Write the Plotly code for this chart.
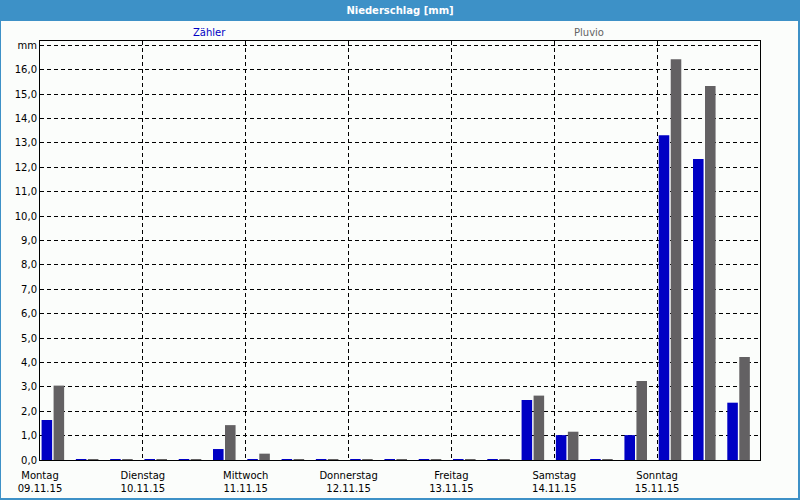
import pandas as pd
import plotly.graph_objects as go

# ---- data ----
day_names = ["Montag", "Dienstag", "Mittwoch", "Donnerstag", "Freitag", "Samstag", "Sonntag"]
day_dates = ["09.11.15", "10.11.15", "11.11.15", "12.11.15", "13.11.15", "14.11.15", "15.11.15"]
day_starts = ["2015-11-09", "2015-11-10", "2015-11-11", "2015-11-12", "2015-11-13", "2015-11-14", "2015-11-15"]
# three 8-hour periods per day (centres at 03:00, 11:00, 19:00)
period_centres = pd.date_range("2015-11-09 03:00", periods=21, freq="8h")

zaehler = [1.64, 0.04, 0.04, 0.04, 0.04, 0.45, 0.04, 0.04, 0.04, 0.04, 0.04,
           0.04, 0.04, 0.04, 2.46, 1.02, 0.04, 1.02, 13.32, 12.34, 2.35]
pluvio = [3.05, 0.04, 0.04, 0.04, 0.04, 1.43, 0.26, 0.04, 0.04, 0.04, 0.04,
          0.04, 0.04, 0.04, 2.64, 1.16, 0.04, 3.24, 16.43, 15.33, 4.22]

y_tickvals = list(range(0, 18))
y_ticktext = [f"{v},0" for v in range(0, 17)] + ["mm"]

BLUE = "#0000C4"
GRAY = "#636163"
FRAME = "#3D91C7"
BG = "#FBFDFB"
FONT = "DejaVu Sans"

fig = go.Figure()
fig.add_trace(go.Bar(x=period_centres, y=zaehler, name="Zähler", marker=dict(color=BLUE, line=dict(width=0))))
fig.add_trace(go.Bar(x=period_centres, y=pluvio, name="Pluvio", marker=dict(color=GRAY, line=dict(width=0))))

L, R, T, B = 40, 40, 41, 40
W, H = 800, 500
pw, ph = W - L - R, H - T - B


def px_x(p):
    return (p - L) / pw


def px_y(p):
    return (H - B - p) / ph


fig.update_layout(
    width=W, height=H,
    margin=dict(l=L, r=R, t=T, b=B, pad=0, autoexpand=False),
    paper_bgcolor=FRAME,
    plot_bgcolor="rgba(0,0,0,0)",
    barmode="group",
    bargap=0.30,
    bargroupgap=0.12,
    showlegend=False,
    font=dict(family=FONT, size=10, color="black"),
    title=dict(text="<b>Niederschlag [mm]</b>", x=0.5, xanchor="center", y=1 - 10.5 / H, yanchor="middle",
               font=dict(family=FONT, size=10, color="white")),
    shapes=[
        dict(type="rect", xref="paper", yref="paper", layer="below",
             x0=px_x(1), x1=px_x(798), y0=px_y(498), y1=px_y(21),
             fillcolor=BG, line=dict(width=0)),
    ],
    annotations=[
        dict(text="Zähler", xref="paper", yref="paper", x=px_x(209), y=px_y(32), showarrow=False,
             xanchor="center", yanchor="middle", font=dict(family=FONT, size=10, color=BLUE)),
        dict(text="Pluvio", xref="paper", yref="paper", x=px_x(589), y=px_y(32), showarrow=False,
             xanchor="center", yanchor="middle", font=dict(family=FONT, size=10, color="#646464")),
    ],
)

fig.update_xaxes(
    type="date",
    range=["2015-11-09", "2015-11-16"],
    tickvals=day_starts,
    ticktext=[f"{n}<br>{d}" for n, d in zip(day_names, day_dates)],
    tickangle=0,
    ticklabelstandoff=6,
    automargin=False,
    showgrid=True, gridcolor="black", griddash="4px,3px", gridwidth=1,
    showline=True, linecolor="black", linewidth=1, mirror=True,
    ticks="", zeroline=False,
    tickfont=dict(family=FONT, size=10, color="black"),
)
fig.update_yaxes(
    range=[0, 17.18],
    automargin=False,
    tickvals=y_tickvals, ticktext=y_ticktext,
    showgrid=True, gridcolor="black", griddash="4px,3px", gridwidth=1,
    showline=True, linecolor="black", linewidth=1, mirror=True,
    ticks="", zeroline=False,
    tickfont=dict(family=FONT, size=10, color="black"),
)

fig.write_html("out.html")
